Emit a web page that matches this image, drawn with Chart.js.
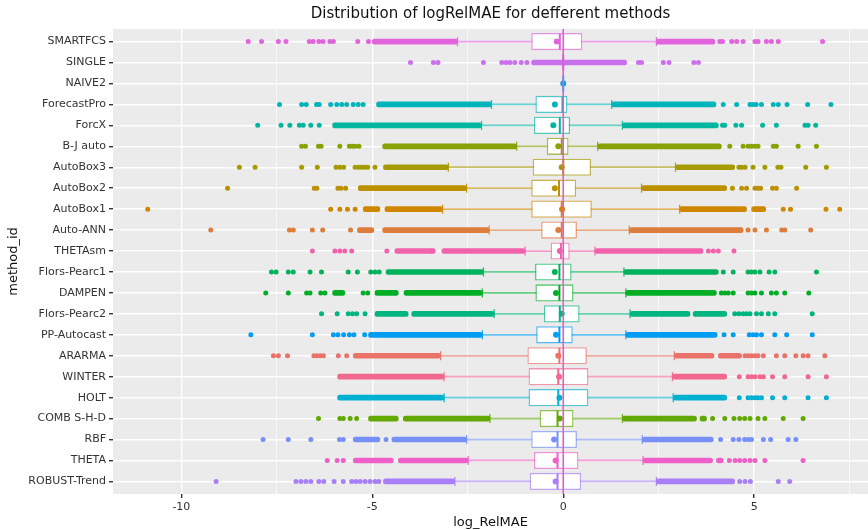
<!DOCTYPE html>
<html>
<head>
<meta charset="utf-8">
<script src="https://cdn.jsdelivr.net/npm/chart.js@4.4.1/dist/chart.umd.min.js"></script>
<style>
  html, body { margin: 0; padding: 0; background: #fff; overflow: hidden; }
  #wrap { position: relative; width: 868px; height: 530px; }
  #chart { display: block; }
</style>
</head>
<body>
<div id="wrap"><canvas id="chart"></canvas></div>
<script>
// rows, top to bottom as in the plot
const methods = ['SMARTFCS', 'SINGLE', 'NAIVE2', 'ForecastPro', 'ForcX', 'B-J auto', 'AutoBox3', 'AutoBox2',
  'AutoBox1', 'Auto-ANN', 'THETAsm', 'Flors-Pearc1', 'DAMPEN', 'Flors-Pearc2', 'PP-Autocast', 'ARARMA',
  'WINTER', 'HOLT', 'COMB S-H-D', 'RBF', 'THETA', 'ROBUST-Trend'];

// colour order (ggplot hue palette follows the alphabetical factor levels)
const colorOrder = ['ARARMA', 'Auto-ANN', 'AutoBox1', 'AutoBox2', 'AutoBox3', 'B-J auto', 'COMB S-H-D', 'DAMPEN',
  'Flors-Pearc1', 'Flors-Pearc2', 'ForcX', 'ForecastPro', 'HOLT', 'NAIVE2', 'PP-Autocast', 'RBF',
  'ROBUST-Trend', 'SINGLE', 'SMARTFCS', 'THETA', 'THETAsm', 'WINTER'];

const q1      = [-0.83, 0, 0, -0.72, -0.76, -0.42, -0.79, -0.83, -0.83, -0.57, -0.32, -0.73, -0.72, -0.50, -0.70, -0.93, -0.90, -0.90, -0.61, -0.83, -0.76, -0.87];
const medians = [-0.09, 0, 0, -0.02, -0.09, -0.04, 0.00, -0.11, -0.04, -0.04, -0.06, -0.10, -0.10, -0.09, -0.10, -0.10, -0.13, -0.13, -0.15, -0.15, -0.15, -0.15];
const q3      = [0.49, 0, 0, 0.10, 0.17, 0.13, 0.72, 0.33, 0.74, 0.35, 0.16, 0.21, 0.26, 0.42, 0.24, 0.61, 0.65, 0.65, 0.26, 0.35, 0.39, 0.46];
const whiskLo = [-2.77, 0, 0, -1.88, -2.14, -1.22, -3.01, -2.53, -3.16, -1.94, -1.00, -2.09, -2.12, -1.81, -2.12, -3.21, -3.12, -3.12, -1.92, -2.53, -2.49, -2.84];
const whiskHi = [2.44, 0, 0, 1.27, 1.55, 0.90, 2.94, 2.05, 3.05, 1.73, 0.83, 1.59, 1.64, 1.75, 1.64, 2.91, 2.86, 2.88, 1.55, 2.07, 2.09, 2.44];
const means   = [-0.17, 0, 0, -0.22, -0.26, -0.13, -0.04, -0.22, -0.03, -0.13, -0.09, -0.22, -0.19, -0.04, -0.19, -0.13, -0.11, -0.10, -0.09, -0.24, -0.20, -0.20];

// stretches where the outliers overlap into a solid band
const outlierRuns = [
  [[-5.0, -2.77], [2.44, 3.97]],
  [[-0.83, 1.66]],
  [],
  [[-4.89, -1.88], [1.27, 4.0]],
  [[-6.04, -2.14], [1.55, 4.06]],
  [[-4.73, -1.22], [0.90, 4.14]],
  [[-4.71, -3.01], [2.94, 4.49]],
  [[-5.37, -2.53], [2.05, 4.28]],
  [[-5.24, -4.80], [-4.67, -3.16], [3.05, 4.80], [4.93, 5.30]],
  [[-5.39, -4.96], [-4.73, -1.94], [1.73, 4.71]],
  [[-4.41, -3.35], [-3.18, -1.00], [0.83, 3.66]],
  [[-4.64, -2.09], [1.59, 4.06]],
  [[-6.04, -5.72], [-4.93, -4.32], [-4.17, -2.12], [1.64, 4.01]],
  [[-4.93, -4.06], [-3.97, -1.81], [1.75, 3.32], [3.40, 4.28]],
  [[-5.10, -2.12], [1.64, 4.03]],
  [[-5.50, -3.21], [2.91, 3.95], [4.06, 4.67]],
  [[-5.91, -3.12], [2.86, 4.28]],
  [[-5.91, -3.12], [2.88, 4.28]],
  [[-5.10, -4.32], [-4.19, -1.92], [1.55, 3.49], [3.58, 3.75]],
  [[-5.50, -4.80], [-4.49, -2.53], [2.07, 3.93]],
  [[-5.50, -4.45], [-4.32, -2.49], [2.09, 3.91], [4.01, 4.19]],
  [[-4.71, -2.84], [2.44, 4.49]]
];

// single outliers
const outlierDots = [
  [-8.25, -7.90, -7.46, -7.26, -6.65, -6.55, -6.40, -6.29, -6.11, -6.02, -5.38, -5.10, 4.10, 4.17, 4.41, 4.54, 4.71, 5.02, 5.10, 5.32, 5.45, 5.63, 6.79],
  [-4.0, -3.40, -3.28, -2.09, -1.61, -1.50, -1.40, -1.27, -1.10, -0.95, 1.97, 2.05, 2.62, 2.77, 3.42, 3.54],
  [],
  [-7.43, -6.85, -6.73, -6.46, -6.39, -6.09, -5.93, -5.80, -5.67, -5.50, -5.37, -5.24, 4.19, 4.54, 4.89, 4.97, 5.05, 5.19, 5.50, 5.63, 5.86, 6.40, 7.01],
  [-8.0, -7.39, -7.16, -6.91, -6.81, -6.61, -6.39, 4.17, 4.23, 4.52, 4.67, 5.22, 5.58, 6.33, 6.41, 6.61],
  [-6.85, -6.75, -6.41, -6.34, -5.85, -5.60, -5.52, -5.45, -5.35, 4.36, 4.71, 4.84, 4.93, 5.02, 5.10, 5.50, 5.58, 6.15, 6.63],
  [-8.48, -8.07, -6.85, -6.44, -5.95, -5.85, -5.75, -5.45, -5.36, -5.28, -5.20, -5.12, -4.93, 4.60, 4.67, 4.76, 4.97, 5.28, 5.62, 5.70, 6.35, 6.89],
  [-8.79, -6.52, -6.45, -5.90, -5.82, -5.70, 4.43, 4.67, 4.80, 5.02, 5.10, 5.17, 5.48, 5.58, 6.11],
  [-10.88, -6.09, -5.85, -5.65, -5.45, 5.76, 5.95, 6.88, 7.24],
  [-9.23, -7.17, -7.07, -6.57, -6.30, -5.57, 4.84, 5.02, 5.32, 5.72, 5.80, 6.48],
  [-6.57, -5.98, -5.85, -5.72, -5.54, -4.62, -3.45, 3.80, 3.93, 4.06, 4.47],
  [-7.64, -7.52, -7.20, -7.07, -6.63, -6.33, -5.63, -5.39, -5.04, -4.93, -4.82, 4.19, 4.45, 4.84, 4.93, 5.02, 5.15, 5.39, 5.54, 6.63],
  [-7.79, -7.20, -6.72, -6.63, -6.35, -6.24, -5.24, -5.12, 4.14, 4.23, 4.32, 4.45, 4.84, 4.93, 5.02, 5.19, 5.45, 5.58, 5.80, 6.43],
  [-6.33, -5.92, -5.63, -5.52, -5.41, -5.19, 4.49, 4.60, 4.71, 4.80, 4.89, 5.06, 5.19, 5.37, 5.54, 6.52],
  [-8.18, -6.57, -6.02, -5.90, -5.75, -5.60, -5.48, -5.20, 4.21, 4.45, 4.87, 4.97, 5.06, 5.19, 5.54, 5.85, 6.52],
  [-7.59, -7.46, -7.22, -6.53, -6.45, -6.36, -6.28, -5.89, -5.67, 4.76, 4.84, 4.93, 5.02, 5.10, 5.24, 5.58, 5.80, 6.09, 6.28, 6.41, 6.85],
  [4.61, 4.84, 4.93, 5.02, 5.15, 5.24, 5.48, 5.80, 6.41, 6.89],
  [4.61, 4.84, 4.93, 5.02, 5.10, 5.19, 5.48, 5.80, 6.41, 6.89],
  [-6.41, -5.85, -5.76, -5.58, -5.41, 3.91, 4.23, 4.47, 4.62, 4.75, 4.89, 5.10, 5.28, 5.76, 6.28],
  [-7.86, -7.20, -6.61, -5.86, -5.76, -4.64, 4.12, 4.45, 4.60, 4.75, 4.85, 4.93, 5.24, 5.43, 5.89, 6.09],
  [-6.18, -5.92, -5.76, 4.35, 4.50, 4.62, 4.75, 4.89, 5.02, 5.28, 6.28],
  [-9.09, -7.00, -6.87, -6.74, -6.61, -6.40, -6.27, -6.00, -5.76, -5.54, -5.43, -5.32, -5.19, -5.06, -4.93, -4.83, 4.62, 4.76, 4.90, 5.63, 5.93]
];

const xTicks = [-10, -7.5, -5, -2.5, 0, 2.5, 5, 7.5];
const xMin = -11.79;
const xMax = 7.98;
const refLine = 0;

// ggplot2 default hue palette (hcl), toned down a little like the reference
function hcl(h, c, l) {
  const hr = h * Math.PI / 180;
  const u = c * Math.cos(hr), v = c * Math.sin(hr);
  const Xn = 95.047, Yn = 100, Zn = 108.883;
  const den = Xn + 15 * Yn + 3 * Zn;
  const un = 4 * Xn / den, vn = 9 * Yn / den;
  const Y = Yn * Math.pow((l + 16) / 116, 3);
  const up = u / (13 * l) + un, vp = v / (13 * l) + vn;
  const X = Y * 9 * up / (4 * vp);
  const Z = Y * (12 - 3 * up - 20 * vp) / (4 * vp);
  const x = X / 100, y = Y / 100, z = Z / 100;
  const r = 3.2404542 * x - 1.5371385 * y - 0.4985314 * z;
  const g = -0.9692660 * x + 1.8760108 * y + 0.0415560 * z;
  const b = 0.0556434 * x - 0.2040259 * y + 1.0572252 * z;
  const gam = t => {
    t = t <= 0.0031308 ? 12.92 * t : 1.055 * Math.pow(t, 1 / 2.4) - 0.055;
    return Math.round(Math.max(0, Math.min(1, t)) * 255);
  };
  return [gam(r), gam(g), gam(b)];
}

const rgb = methods.map(m => {
  const k = colorOrder.indexOf(m);
  return hcl((15 + 360 * k / colorOrder.length) % 360, 92, 62);
});
const col = (i, a) => `rgba(${rgb[i][0]}, ${rgb[i][1]}, ${rgb[i][2]}, ${a})`;

// building the element lists
const boxData = [], whiskData = [], capData = [], capColors = [];
const medData = [], meanData = [], runData = [], runColors = [], dotData = [], dotColors = [];
methods.forEach((m, i) => {
  boxData.push({ x: [q1[i], q3[i]], y: i });
  medData.push({ x: medians[i], y: i });
  meanData.push({ x: means[i], y: i });
  if (whiskHi[i] > whiskLo[i]) {
    whiskData.push({ x: [whiskLo[i], whiskHi[i]], y: i, c: i });
    capData.push({ x: whiskLo[i], y: i }, { x: whiskHi[i], y: i });
    capColors.push(col(i, 0.9), col(i, 0.9));
  }
  outlierRuns[i].forEach(r => { runData.push({ x: r, y: i }); runColors.push(col(i, 1)); });
  outlierDots[i].forEach(v => { dotData.push({ x: v, y: i }); dotColors.push(col(i, 1)); });
});

const panel = {
  id: 'panel',
  beforeDraw(chart) {
    const { ctx, chartArea: a } = chart;
    ctx.save();
    ctx.fillStyle = '#EBEBEB';
    ctx.fillRect(a.left, a.top, a.right - a.left, a.bottom - a.top);
    ctx.restore();
  },
  afterDatasetsDraw(chart) {
    const { ctx, chartArea: a, scales } = chart;
    const x = scales.x.getPixelForValue(refLine);
    ctx.save();
    ctx.strokeStyle = '#E35BC8';
    ctx.lineWidth = 1.6;
    ctx.beginPath();
    ctx.moveTo(x, a.top);
    ctx.lineTo(x, a.bottom);
    ctx.stroke();
    ctx.restore();
  }
};

const font = 'DejaVu Sans';

new Chart(document.getElementById('chart'), {
  type: 'bar',
  data: {
    datasets: [
      { type: 'scatter', data: meanData, pointRadius: 3, pointBackgroundColor: methods.map((m, i) => col(i, 1)),
        pointBorderWidth: 0 },
      { type: 'scatter', data: medData, pointStyle: 'line', rotation: 90, pointRadius: 8,
        pointBorderColor: methods.map((m, i) => col(i, 1)), pointBorderWidth: 2 },
      { indexAxis: 'y', grouped: false, data: boxData, barThickness: 16.5, backgroundColor: '#FFFFFF',
        borderColor: methods.map((m, i) => col(i, 0.65)), borderWidth: 1.3, borderSkipped: false },
      { type: 'scatter', data: capData, pointStyle: 'line', rotation: 90, pointRadius: 4.5,
        pointBorderColor: capColors, pointBorderWidth: 1.3 },
      { indexAxis: 'y', grouped: false, data: whiskData, barThickness: 1.1,
        backgroundColor: whiskData.map(d => col(d.c, 0.6)), borderWidth: 0 },
      { indexAxis: 'y', grouped: false, data: runData, barThickness: 5, backgroundColor: runColors,
        borderWidth: 0, borderRadius: 2.5, borderSkipped: false },
      { type: 'scatter', data: dotData, pointRadius: 2.5, pointBackgroundColor: dotColors, pointBorderWidth: 0 }
    ]
  },
  options: {
    responsive: true,
    maintainAspectRatio: false,
    animation: false,
    events: [],
    layout: { autoPadding: false, padding: { left: 6, right: 0, top: 0, bottom: 0 } },
    plugins: {
      legend: { display: false },
      tooltip: { enabled: false },
      title: {
        display: true,
        fullSize: false,
        text: 'Distribution of logRelMAE for defferent methods',
        color: '#111',
        font: { family: font, size: 15, weight: 'normal' },
        padding: { top: 5, bottom: 6 }
      }
    },
    scales: {
      x: {
        type: 'linear',
        min: xMin,
        max: xMax,
        offset: false,
        afterBuildTicks: s => { s.ticks = xTicks.map(v => ({ value: v })); },
        afterFit: s => { s.height = 36; },
        border: { display: false },
        grid: {
          offset: false,
          color: '#FFFFFF',
          lineWidth: c => (c.tick && c.tick.value % 5 === 0 ? 1.4 : 0.7),
          tickColor: c => (c.tick && c.tick.value % 5 === 0 ? '#333' : 'rgba(0,0,0,0)'),
          tickLength: 4
        },
        ticks: {
          color: '#333',
          padding: 3,
          font: { family: font, size: 11 },
          callback: v => (v % 5 === 0 ? String(v) : '')
        },
        title: {
          display: true,
          text: 'log_RelMAE',
          color: '#111',
          font: { family: font, size: 13 },
          padding: { top: 0, bottom: 0 }
        }
      },
      y: {
        type: 'linear',
        reverse: true,
        min: -0.6,
        max: methods.length - 0.4,
        offset: false,
        afterBuildTicks: s => { s.ticks = methods.map((m, i) => ({ value: i })); },
        afterFit: s => { s.width = 107; },
        border: { display: false },
        grid: { offset: false, color: '#FFFFFF', lineWidth: 1.4, tickColor: '#333', tickLength: 4 },
        ticks: {
          color: '#333',
          padding: 3,
          autoSkip: false,
          font: { family: font, size: 11 },
          callback: v => methods[v]
        },
        title: {
          display: true,
          text: 'method_id',
          color: '#111',
          font: { family: font, size: 13 },
          padding: { top: 0, bottom: 0 }
        }
      }
    }
  },
  plugins: [panel]
});
</script>
</body>
</html>
